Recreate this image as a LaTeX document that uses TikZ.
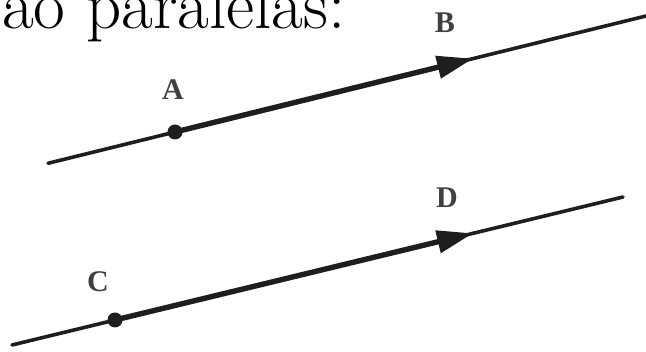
\documentclass[tikz,border=0pt]{standalone}
\usepackage{fontspec}
\newfontfamily\lblfont{Liberation Serif}
\usetikzlibrary{arrows.meta}
\definecolor{ink}{HTML}{1E1E1E}
\tikzset{
  baseline/.style={draw=ink, line width=3.6pt, line cap=round},
  vecline/.style={draw=ink, line width=5.4pt, -{Triangle[length=36pt,width=22pt]}},
  ptdot/.style={circle, fill=ink, inner sep=0pt, minimum size=15pt},
  ptlabel/.style={inner sep=0pt, font=\lblfont\bfseries\fontsize{30}{30}\selectfont, text=ink!85}
}
\begin{document}
\begin{tikzpicture}[x=1pt,y=-1pt]
\useasboundingbox (0,0) rectangle (646,352);
\clip (0,0) rectangle (646,352);
% title
\node[anchor=base west, inner sep=0pt, font=\fontsize{69}{69}\selectfont] (title) at (2,29) {ao paralelas:};
% first line
\coordinate (L1s) at (48,163.3);
\coordinate (L1e) at (646,16);
\node[ptdot] (A) at (175,132) {};
\coordinate (Bt) at (473,58.6);
\draw[baseline] (L1s) -- (L1e);
\draw[vecline] (A.center) -- (Bt);
\node[ptlabel] (la) at (173,90) {A};
\node[ptlabel] (lb) at (445,23) {B};
% second line
\coordinate (L2s) at (12,345);
\coordinate (L2e) at (623,197);
\node[ptdot] (C) at (115,320) {};
\coordinate (Dt) at (473,233.3);
\draw[baseline] (L2s) -- (L2e);
\draw[vecline] (C.center) -- (Dt);
\node[ptlabel] (lc) at (98,282) {C};
\node[ptlabel] (ld) at (447,198) {D};
\end{tikzpicture}
\end{document}
